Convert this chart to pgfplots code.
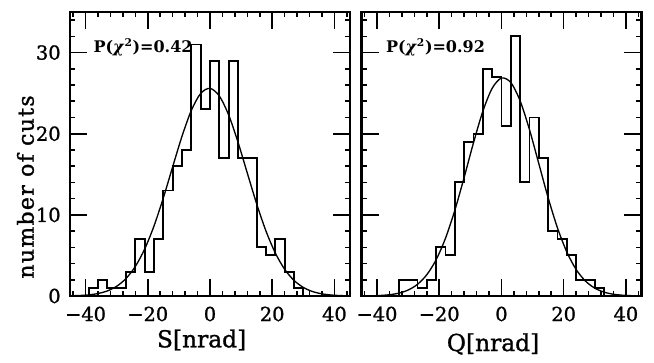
\documentclass[border=0pt]{standalone}
\usepackage{pgfplots}
\pgfplotsset{compat=1.18}
\usepackage{fontspec}
\setmainfont{DejaVu Serif}
\newfontfamily\heavy[FakeBold=1.2]{DejaVu Serif}
\newfontfamily\ylabfont[FakeBold=1.2,LetterSpace=6]{DejaVu Serif}
\newcommand\tickfont{\heavy\fontsize{14.5}{16}\selectfont}
\newcommand\labfont{\heavy\fontsize{17.5}{20}\selectfont}
\newcommand\pfont{\fontsize{12}{14}\selectfont\bfseries}

\pgfplotsset{
  panel/.style={
    scale only axis, width=210pt, height=213pt,
    xmin=-45, xmax=45, ymin=0, ymax=35,
    clip=false,
    xtick={-40,-20,0,20,40},
    xticklabels={−40,−20,0,20,40},
    minor xtick={-44,-36,-32,-28,-24,-16,-12,-8,-4,4,8,12,16,24,28,32,36,44},
    ytick={0,10,20,30},
    minor ytick={2,4,6,8,12,14,16,18,22,24,26,28,32,34},
    major tick length=13pt, minor tick length=4pt,
    axis line style={line width=1.6pt},
    every tick/.style={black, line width=1.2pt},
    tick label style={font=\tickfont},
    xticklabel style={yshift=-4.5pt},
    yticklabel style={xshift=-3.5pt},
    /pgf/number format/assume math mode=true,
  },
  hist/.style={const plot, black, line width=1.4pt, mark=none},
  gauss/.style={smooth, black, line width=1.0pt, mark=none},
}

\begin{document}
\begin{tikzpicture}
\begin{axis}[panel, at={(0pt,0pt)}, anchor=south west]
\addplot[hist] coordinates {
(-42,0) (-39,1) (-36,2) (-33,1) (-30,1) (-27,3) (-24,7) (-21,3) (-18,7)
(-15,13) (-12,16) (-9,18) (-6,31) (-3,23) (0,29) (3,17) (6,29) (9,17)
(12,17) (15,6) (18,5) (21,7) (24,3) (27,1) (30,0) (33,0)};
\addplot[gauss] coordinates {
(-45,0.025) (-42,0.061) (-39,0.141) (-36,0.306) (-33,0.625) (-30,1.197)
(-27,2.154) (-24,3.643) (-21,5.784) (-18,8.625) (-15,12.09) (-12,15.92)
(-9,19.68) (-6,22.87) (-3,24.96) (0,25.59) (3,24.65) (6,22.31) (9,18.96)
(12,15.14) (15,11.36) (18,8.00) (21,5.30) (24,3.29) (27,1.925) (30,1.056)
(33,0.545) (36,0.264) (39,0.120) (42,0.051) (45,0.021)};
\node[anchor=west, inner sep=0pt, font=\pfont] at (axis cs:-37.5,30.6) {P(\textit{χ}\textsuperscript{2})=0.42};
\node[font=\labfont] at ([yshift=-33pt]axis cs:-2.7,0) {S[nrad]};
\node[rotate=90, font=\labfont] at ([xshift=-33.4pt]rel axis cs:0,0.384) {\ylabfont\fontsize{16.5}{19}\selectfont number of cuts};
\end{axis}
\begin{axis}[panel, at={(218.6pt,0pt)}, anchor=south west, yticklabels={}]
\addplot[hist] coordinates {
(-36,0) (-33,2) (-30,2) (-27,1) (-24,2) (-21,6) (-18,5) (-15,14) (-12,19)
(-9,20) (-6,28) (-3,27) (0,21) (3,32) (6,14) (9,22) (12,17) (15,8) (18,7)
(21,5) (24,2) (27,2) (30,1) (33,0) (36,0)};
\addplot[gauss] coordinates {
(-45,0.009) (-42,0.025) (-39,0.065) (-36,0.156) (-33,0.350) (-30,0.734)
(-27,1.436) (-24,2.623) (-21,4.469) (-18,7.110) (-15,10.55) (-12,14.61)
(-9,18.87) (-6,22.75) (-3,25.59) (0,26.86) (3,26.31) (6,24.05) (9,20.51)
(12,16.32) (15,12.12) (18,8.40) (21,5.43) (24,3.27) (27,1.843) (30,0.968)
(33,0.474) (36,0.217) (39,0.093) (42,0.037) (45,0.014)};
\node[anchor=west, inner sep=0pt, font=\pfont] at (axis cs:-37.2,30.6) {P(\textit{χ}\textsuperscript{2})=0.92};
\node[font=\labfont] at ([yshift=-36pt]axis cs:-2.7,0) {Q[nrad]};
\end{axis}
\pgfresetboundingbox
\path[use as bounding box] (-52.5pt,-49.5pt) rectangle (438pt,222pt);
\end{tikzpicture}
\end{document}
